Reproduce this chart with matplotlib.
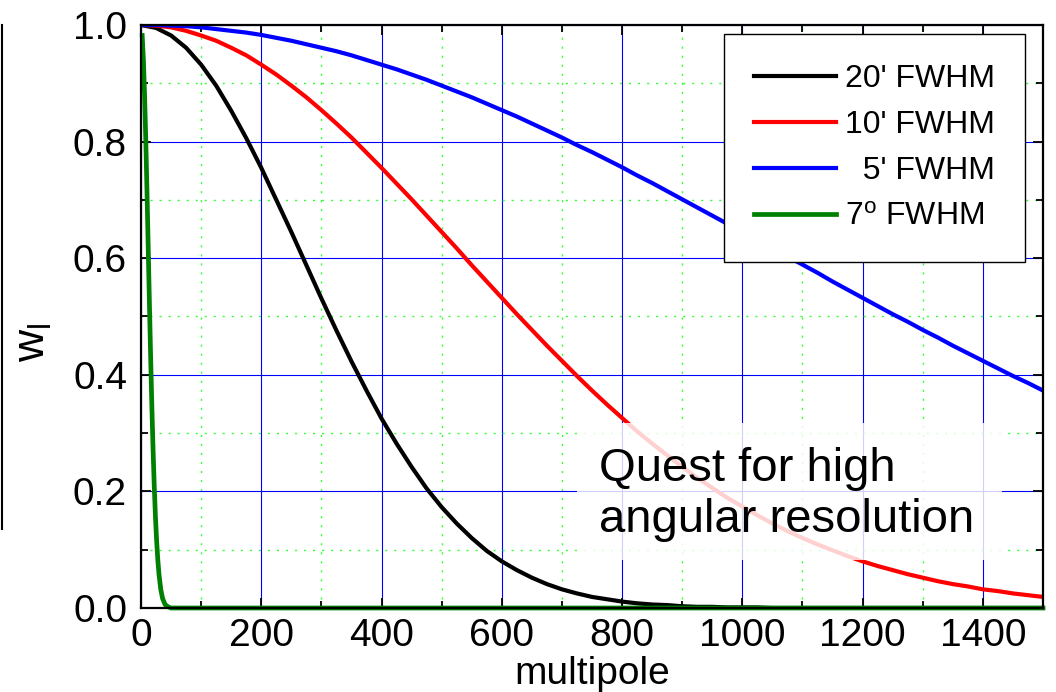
import matplotlib
matplotlib.use('Agg')
import matplotlib.pyplot as plt
from matplotlib.lines import Line2D
from matplotlib.patches import Rectangle
from matplotlib.ticker import MultipleLocator

plt.rcParams['font.family'] = ['Liberation Sans', 'DejaVu Sans']
plt.rcParams['mathtext.fontset'] = 'custom'
plt.rcParams['mathtext.rm'] = 'Liberation Sans'
plt.rcParams['mathtext.it'] = 'Liberation Sans:italic'

# multipoles (every 25)
ell = list(range(0, 1501, 25))

# 20' FWHM beam (black)
w_20arcmin = [1.000, 0.995, 0.982, 0.961, 0.932, 0.896, 0.853, 0.806, 0.755, 0.700,
              0.645, 0.588, 0.531, 0.476, 0.423, 0.373, 0.325, 0.282, 0.242, 0.205,
              0.173, 0.145, 0.120, 0.098, 0.080, 0.065, 0.052, 0.041, 0.032, 0.025,
              0.019, 0.015, 0.011, 0.008, 0.006, 0.005, 0.003, 0.002, 0.002, 0.001,
              0.001, 0.001, 0.000, 0.000, 0.000, 0.000, 0.000, 0.000, 0.000, 0.000,
              0.000, 0.000, 0.000, 0.000, 0.000, 0.000, 0.000, 0.000, 0.000, 0.000,
              0.000]

# 10' FWHM beam (red)
w_10arcmin = [1.000, 0.999, 0.996, 0.990, 0.982, 0.973, 0.961, 0.948, 0.932, 0.915,
              0.896, 0.876, 0.854, 0.831, 0.807, 0.781, 0.755, 0.728, 0.701, 0.673,
              0.645, 0.617, 0.588, 0.560, 0.532, 0.504, 0.477, 0.450, 0.424, 0.398,
              0.373, 0.349, 0.326, 0.303, 0.282, 0.262, 0.242, 0.223, 0.206, 0.189,
              0.174, 0.159, 0.145, 0.132, 0.120, 0.109, 0.099, 0.089, 0.080, 0.072,
              0.065, 0.058, 0.052, 0.046, 0.041, 0.037, 0.032, 0.029, 0.025, 0.022,
              0.019]

# 5' FWHM beam (blue)
w_5arcmin = [1.000, 1.000, 0.999, 0.998, 0.996, 0.993, 0.990, 0.987, 0.983, 0.978,
             0.973, 0.967, 0.961, 0.955, 0.948, 0.940, 0.932, 0.924, 0.915, 0.906,
             0.896, 0.886, 0.876, 0.865, 0.854, 0.843, 0.831, 0.819, 0.807, 0.794,
             0.782, 0.769, 0.756, 0.742, 0.729, 0.715, 0.701, 0.687, 0.673, 0.659,
             0.645, 0.631, 0.617, 0.603, 0.589, 0.575, 0.560, 0.546, 0.532, 0.518,
             0.504, 0.491, 0.477, 0.464, 0.450, 0.437, 0.424, 0.411, 0.398, 0.386,
             0.373]

# 7 degree FWHM beam (green), denser at low multipoles
ell_7deg = [2, 4, 6, 8, 10, 12, 14, 16, 18, 20, 22, 24, 26, 28, 30, 33, 36, 40,
            45, 50, 60, 100, 500, 1000, 1500]
w_7deg = [0.982, 0.940, 0.878, 0.801, 0.712, 0.618, 0.523, 0.432, 0.348, 0.274,
          0.210, 0.157, 0.115, 0.082, 0.057, 0.031, 0.016, 0.006, 0.002, 0.000,
          0.000, 0.000, 0.000, 0.000, 0.000]

labels = ["20' FWHM", "10' FWHM", "  5' FWHM", r"7$^\mathrm{o}$ FWHM"]

fig = plt.figure(figsize=(10.56, 6.92), dpi=100)
ax = fig.add_axes([141 / 1056, 1 - 608 / 692, 902 / 1056, 583 / 692])

ax.plot(ell, w_20arcmin, color='black', lw=3.0, label=labels[0])
ax.plot(ell, w_10arcmin, color='red', lw=3.0, label=labels[1])
ax.plot(ell, w_5arcmin, color='blue', lw=3.0, label=labels[2])
ax.plot(ell_7deg, w_7deg, color='green', lw=3.4, label=labels[3], clip_on=False)

ax.set_xlim(0, 1500)
ax.set_ylim(0, 1)
ax.xaxis.set_major_locator(MultipleLocator(200))
ax.xaxis.set_minor_locator(MultipleLocator(100))
ax.yaxis.set_major_locator(MultipleLocator(0.2))
ax.yaxis.set_minor_locator(MultipleLocator(0.1))
ax.yaxis.set_major_formatter(matplotlib.ticker.FormatStrFormatter('%.1f'))

ax.grid(which='major', color='blue', lw=0.8, ls='-')
ax.grid(which='minor', color='#33ff33', lw=1.0, ls=(0, (1.5, 5)))
ax.set_axisbelow(True)

ax.tick_params(which='both', direction='in', top=True, right=True, width=1.3, colors='black')
ax.tick_params(which='major', length=7, labelsize=28)
ax.tick_params(which='minor', length=5)
ax.tick_params(axis='x', which='major', pad=7)
ax.tick_params(axis='y', which='major', pad=10)
for s in ax.spines.values():
    s.set_linewidth(1.6)

ax.set_xlabel('multipole', fontsize=28)
ax.xaxis.set_label_coords(0.5, -0.083)
ax.set_ylabel(r'$\mathrm{w_l}$', fontsize=32)
ax.yaxis.set_label_coords(-0.097, 0.455)

leg = ax.legend(loc='upper right', bbox_to_anchor=(0.980, 0.985), borderaxespad=0,
                fontsize=23, frameon=True, fancybox=False, edgecolor='black',
                framealpha=1, handlelength=2.55, handletextpad=0.28,
                borderpad=0.95, labelspacing=0.5)
leg.get_frame().set_linewidth(1.0)

# faded box behind the annotation
ax.add_patch(Rectangle((725, 0.082), 707, 0.235, facecolor='white', alpha=0.82,
                       edgecolor='none', zorder=3))
ax.text(762, 0.194, 'Quest for high\nangular resolution', fontsize=34,
        ha='left', va='center', zorder=4, linespacing=1.2)

# stray vertical rule at the left edge of the slide
fig.add_artist(Line2D([2 / 1056, 2 / 1056], [1 - 25 / 692, 1 - 529 / 692],
                      color='black', lw=1.5, transform=fig.transFigure))

fig.savefig('out.png', dpi=100)
